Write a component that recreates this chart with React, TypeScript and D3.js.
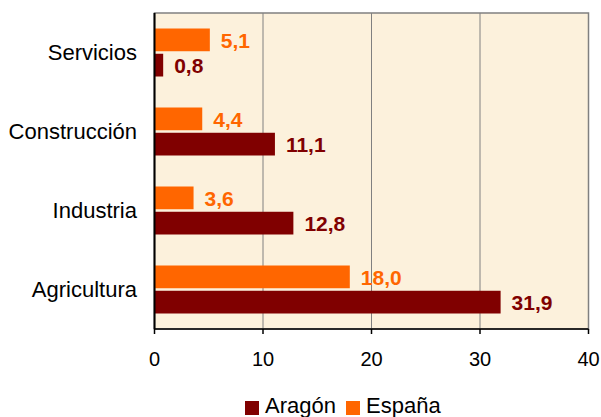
import React from "react";
import * as d3 from "d3";

const categories = ["Servicios", "Construcción", "Industria", "Agricultura"];
const series = ["España", "Aragón"];
const espana = [5.1, 4.4, 3.6, 18.0];
const aragon = [0.8, 11.1, 12.8, 31.9];
const xTicks = [0, 10, 20, 30, 40];
const legendItems = ["Aragón", "España"];

const colors: Record<string, string> = { "Aragón": "#800000", "España": "#FF6600" };

const W = 601, H = 417;
const left = 154.5, right = 588.5, top = 13, bottom = 329;

export default function App() {
  const x = d3.scaleLinear().domain([0, 40]).range([left, right]);
  const y = d3.scaleBand<string>().domain(categories).range([top, bottom]).padding(0);
  const sub = d3.scaleBand<string>().domain(series).range([15.5, 63.5]).paddingInner(0.1);
  const fmt = (v: number) => v.toFixed(1).replace(".", ",");
  const font = "Arial, 'Liberation Sans', sans-serif";
  const valuesBy: Record<string, number[]> = { "España": espana, "Aragón": aragon };

  return (
    <svg width={W} height={H} style={{ position: "absolute", left: 0, top: 0, background: "#fff" }} fontFamily={font}>
      <rect x={left} y={top} width={right - left} height={bottom - top} fill="#FCF1DC" stroke="#808080" strokeWidth={1.5} />
      {xTicks.slice(1, -1).map((t) => (
        <line key={t} x1={x(t)} x2={x(t)} y1={top} y2={bottom} stroke="#808080" strokeWidth={1} />
      ))}
      {categories.map((c, i) =>
        series.map((s) => {
          const v = valuesBy[s][i];
          const by = (y(c) as number) + (sub(s) as number);
          const bh = sub.bandwidth();
          return (
            <g key={c + s}>
              <rect x={x(0)} y={by} width={x(v) - x(0)} height={bh} fill={colors[s]} />
              <text x={x(v) + 11} y={by + bh / 2} dy="0.38em" fontSize={21} fontWeight="bold" fill={s === "España" ? "#FF6600" : "#800000"}>
                {fmt(v)}
              </text>
            </g>
          );
        })
      )}
      <line x1={left} x2={left} y1={top} y2={bottom} stroke="#000" strokeWidth={2} />
      <line x1={left} x2={right} y1={bottom} y2={bottom} stroke="#000" strokeWidth={1.5} />
      {xTicks.map((t) => (
        <g key={t}>
          <line x1={x(t)} x2={x(t)} y1={bottom} y2={bottom + 5} stroke="#000" strokeWidth={1.5} />
          <text x={x(t)} y={366} textAnchor="middle" fontSize={20} fill="#000">{t}</text>
        </g>
      ))}
      {categories.map((c) => (
        <text key={c} x={137} y={(y(c) as number) + y.bandwidth() / 2} dy="0.36em" textAnchor="end" fontSize={22} fill="#000">
          {c}
        </text>
      ))}
      {legendItems.map((s, i) => {
        const lx = i === 0 ? 245 : 346;
        return (
          <g key={s}>
            <rect x={lx} y={401} width={14} height={14} fill={colors[s]} />
            <text x={lx + 20} y={413} fontSize={22} fill="#000">{s}</text>
          </g>
        );
      })}
    </svg>
  );
}
